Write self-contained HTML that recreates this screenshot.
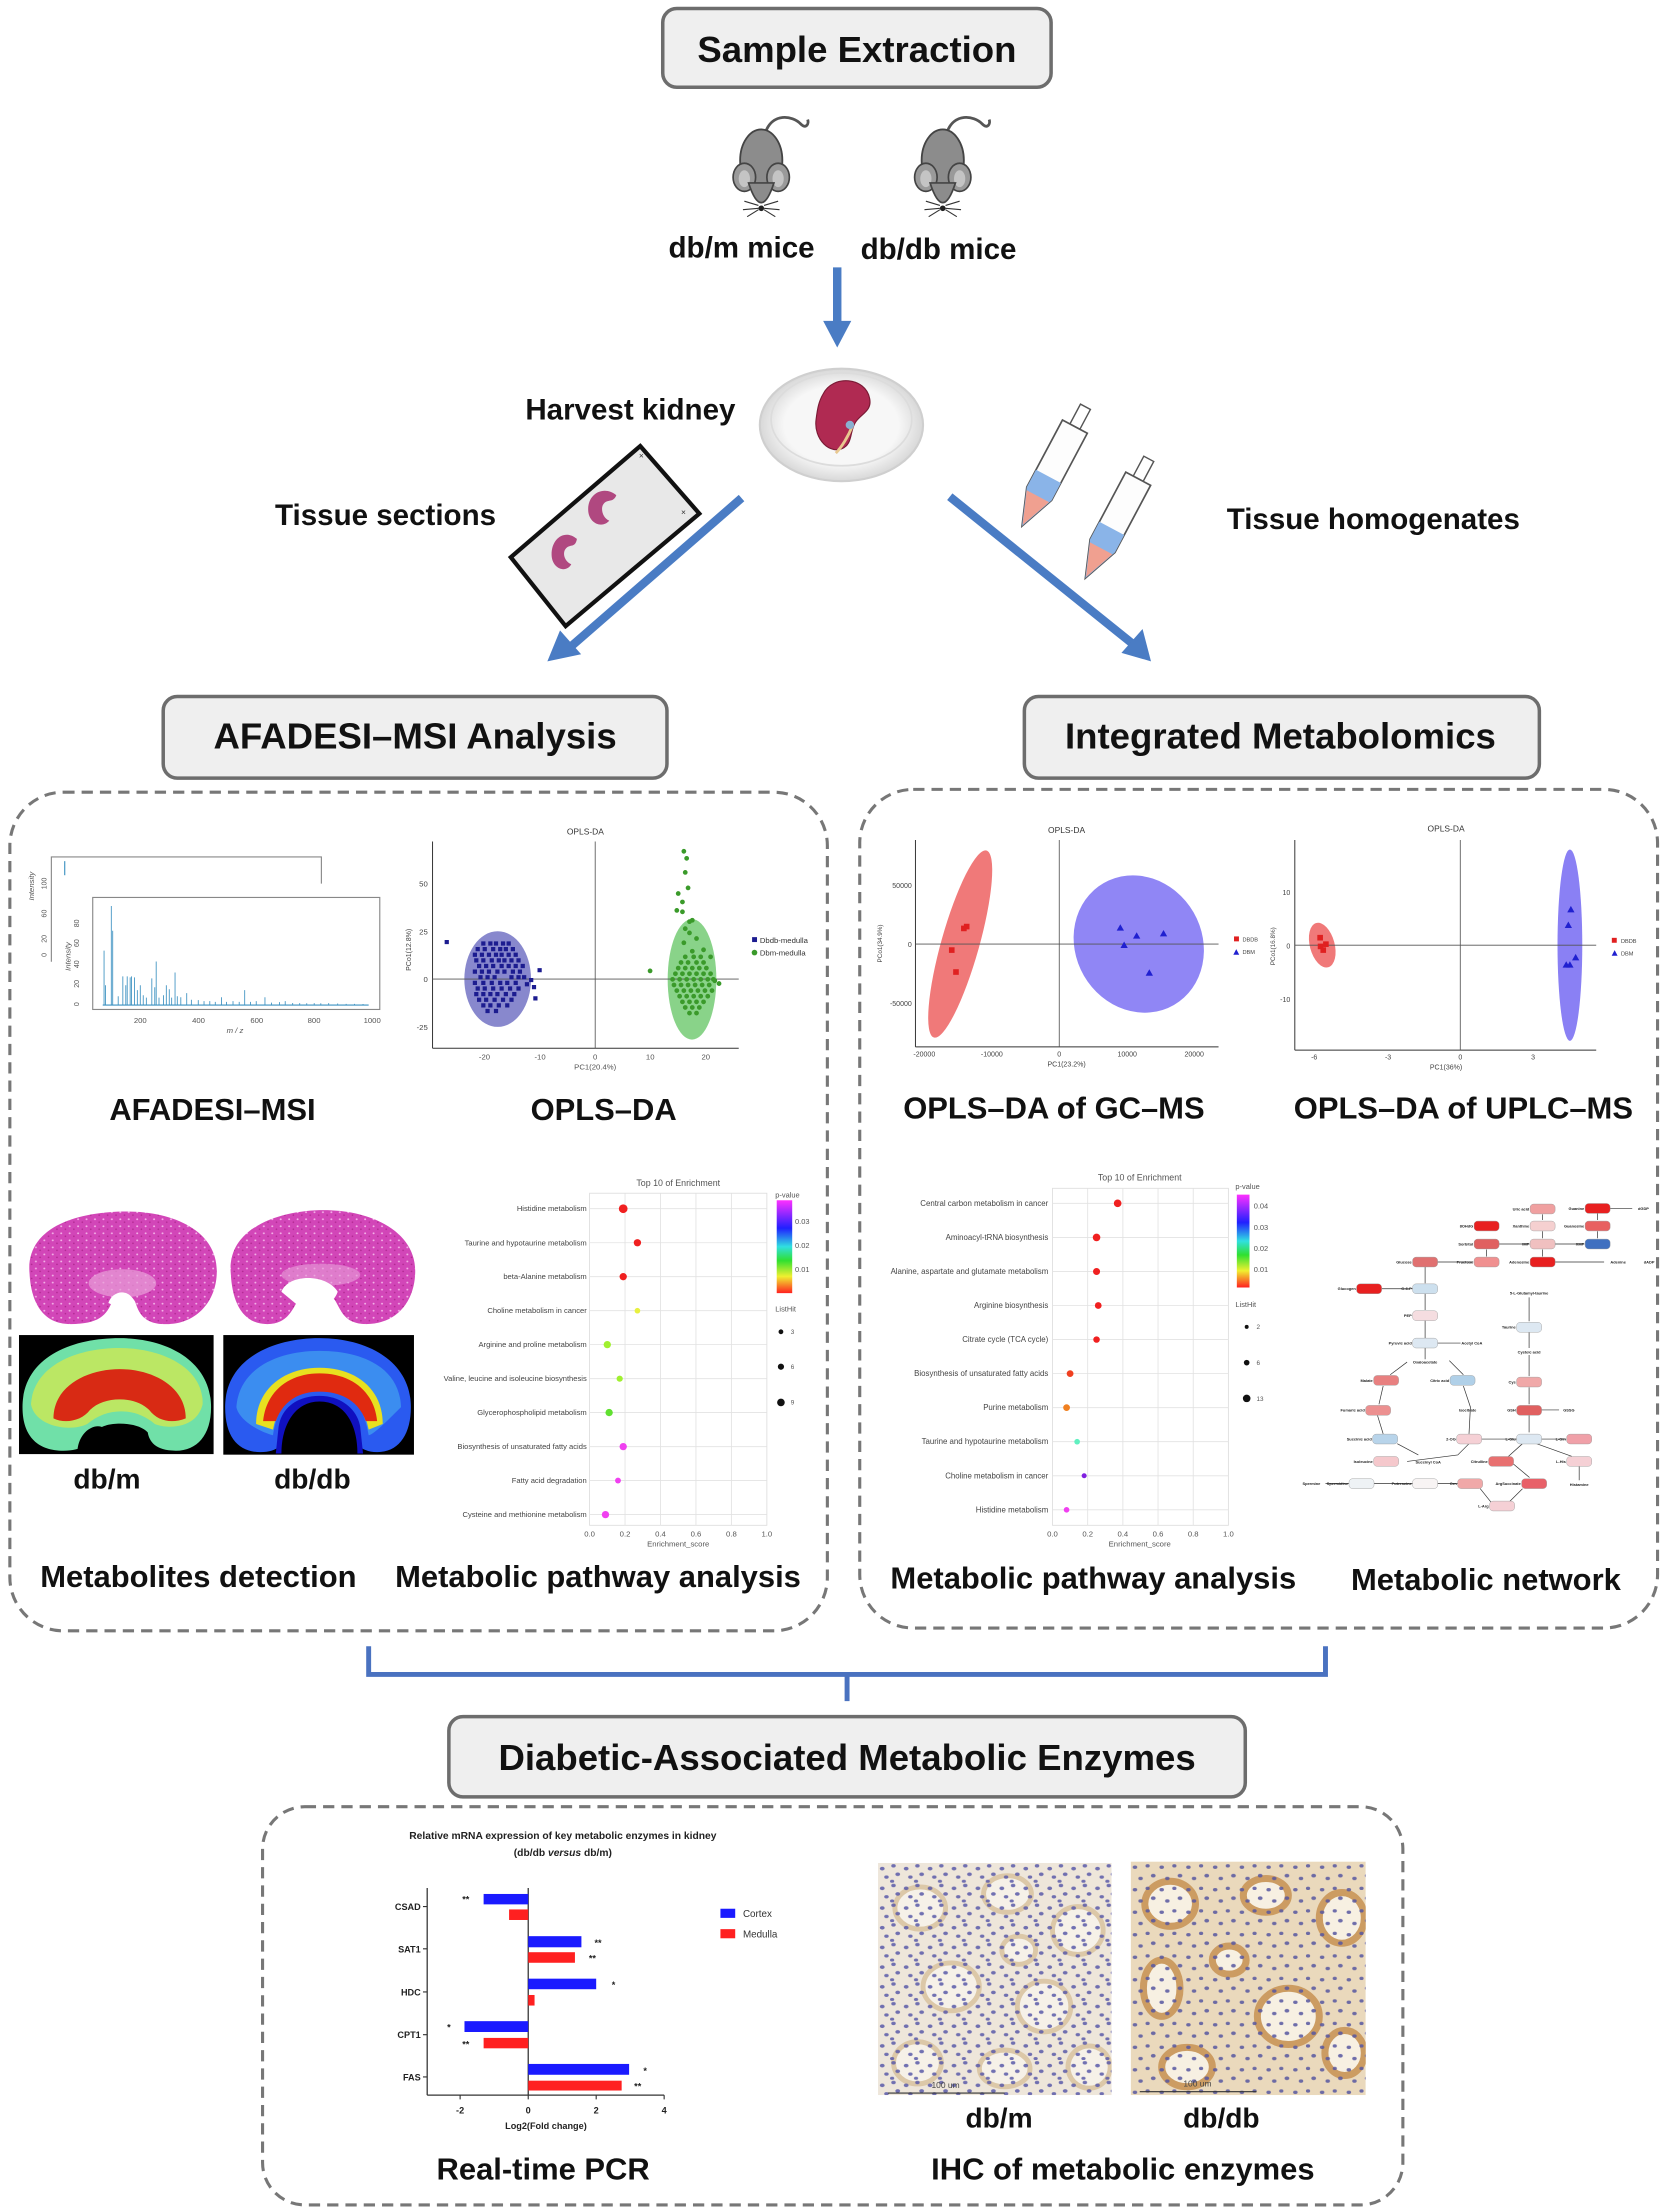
<!DOCTYPE html>
<html><head><meta charset="utf-8">
<style>
html,body{margin:0;padding:0;background:#fff;}
svg{display:block;}
text{font-family:"Liberation Sans",Arial,sans-serif;}
.b{font-weight:bold;fill:#111;}
.pl{font-size:5.4px;fill:#444;text-anchor:end;}
.pr{font-size:5.6px;fill:#444;text-anchor:end;}
.ax{font-size:5.5px;fill:#555;text-anchor:middle;}
.nl{font-size:2.8px;font-weight:bold;fill:#222;text-anchor:end;}
.nm{font-size:2.8px;font-weight:bold;fill:#222;text-anchor:middle;}
.nd{stroke:#999;stroke-width:0.3;}
</style></head>
<body>
<svg xmlns="http://www.w3.org/2000/svg" width="1666" height="2210" viewBox="0 0 1184 1570.6">
<defs>
<linearGradient id="pv1" x1="0" y1="0" x2="0" y2="1">
<stop offset="0" stop-color="#ff30ff"/><stop offset="0.3" stop-color="#2020ff"/><stop offset="0.5" stop-color="#30e0e0"/><stop offset="0.65" stop-color="#30e030"/><stop offset="0.82" stop-color="#f0f030"/><stop offset="1" stop-color="#ff2020"/>
</linearGradient>
<radialGradient id="dish" cx="0.5" cy="0.5" r="0.5"><stop offset="0.7" stop-color="#f7f7f7"/><stop offset="1" stop-color="#d8d8d8"/></radialGradient>
<pattern id="hep" width="6" height="5" patternUnits="userSpaceOnUse"><rect width="6" height="5" fill="#d246b8"/><circle cx="1.5" cy="1.5" r="0.7" fill="#f2b0e6"/><circle cx="4.5" cy="3.6" r="0.6" fill="#b02890"/></pattern>
<pattern id="dots1" width="17" height="14" patternUnits="userSpaceOnUse"><g fill="#5a5aa8"><ellipse cx="3" cy="4" rx="1.7" ry="1.3"/><ellipse cx="11" cy="2" rx="1.6" ry="1.2"/><ellipse cx="14" cy="8" rx="1.7" ry="1.3"/><ellipse cx="6" cy="10" rx="1.6" ry="1.2"/><ellipse cx="10" cy="13" rx="1.5" ry="1.1"/></g></pattern>
<pattern id="dots2" width="19" height="16" patternUnits="userSpaceOnUse"><g fill="#5656a0"><ellipse cx="3" cy="4" rx="1.6" ry="1.2"/><ellipse cx="12" cy="3" rx="1.5" ry="1.2"/><ellipse cx="16" cy="10" rx="1.7" ry="1.3"/><ellipse cx="7" cy="12" rx="1.6" ry="1.2"/></g></pattern>
</defs>

<rect x="471" y="6" width="276" height="56" rx="10" fill="#efefef" stroke="#6d6d6d" stroke-width="2.5"/>
<text x="609" y="44" class="b" font-size="26" text-anchor="middle">Sample Extraction</text>

<g id="mouse1" transform="translate(541,118)">
<path d="M3,-24 C8,-38 22,-36 28,-30 C32,-26 34,-30 33,-33" fill="none" stroke="#555" stroke-width="2"/>
<ellipse cx="0" cy="-4" rx="15" ry="22" fill="#8c8c8c" stroke="#444" stroke-width="1.3"/>
<ellipse cx="-12" cy="8" rx="8" ry="10" fill="#9a9a9a" stroke="#444" stroke-width="1.2"/>
<ellipse cx="12" cy="8" rx="8" ry="10" fill="#9a9a9a" stroke="#444" stroke-width="1.2"/>
<ellipse cx="-12" cy="9" rx="4" ry="6" fill="#c4c4c4"/>
<ellipse cx="12" cy="9" rx="4" ry="6" fill="#c4c4c4"/>
<path d="M-9,12 Q0,40 9,12 Z" fill="#8c8c8c" stroke="#444" stroke-width="1.2"/>
<circle cx="0" cy="30" r="2" fill="#222"/>
<path d="M-2,28 L-12,25 M-2,30 L-13,31 M-2,31 L-10,36 M2,28 L12,25 M2,30 L13,31 M2,31 L10,36" stroke="#333" stroke-width="0.8"/>
</g>
<use href="#mouse1" transform="translate(129,0)"/>
<text x="527" y="183" class="b" font-size="21" text-anchor="middle">db/m mice</text>
<text x="667" y="184" class="b" font-size="21" text-anchor="middle">db/db mice</text>

<line x1="595" y1="190" x2="595" y2="230" stroke="#4a7cc4" stroke-width="6"/>
<polygon points="585,228 605,228 595,247" fill="#4a7cc4"/>

<ellipse cx="598" cy="302" rx="58" ry="40" fill="url(#dish)" stroke="#cfcfcf" stroke-width="1.5"/>
<ellipse cx="598" cy="298" rx="50" ry="33" fill="none" stroke="#dcdcdc" stroke-width="1.2"/>
<path d="M585,280 C592,266 615,268 618,283 C620,292 612,294 608,300 C604,306 606,314 600,318 C590,324 578,312 580,298 C581,290 582,285 585,280 Z" fill="#b02a52" stroke="#7a1a35" stroke-width="0.8"/>
<path d="M606,302 C603,310 598,318 594,322" stroke="#e8c890" stroke-width="2" fill="none"/>
<circle cx="604" cy="302" r="3" fill="#8ab0d0"/>
<text x="448" y="298" class="b" font-size="21" text-anchor="middle">Harvest kidney</text>

<polygon points="455,317 497,365 402,445 363,396" fill="#e8e8e8" stroke="#111" stroke-width="3"/>
<path d="M438,352 C430,345 418,350 418,362 C418,372 428,376 433,370 C428,368 426,360 430,357 C433,355 436,357 438,352 Z" fill="#b04880"/>
<path d="M410,383 C402,376 392,382 392,394 C392,404 402,408 406,401 C401,399 399,392 403,389 C406,387 409,389 410,383 Z" fill="#b04880"/>
<text x="454" y="326" font-size="6" fill="#333">×</text>
<text x="484" y="366" font-size="6" fill="#333">×</text>
<text x="274" y="373" class="b" font-size="21" text-anchor="middle">Tissue sections</text>

<line x1="527" y1="354" x2="404" y2="461" stroke="#4a7cc4" stroke-width="6"/>
<polygon points="389,470 398,448 413,465" fill="#4a7cc4"/>
<line x1="675" y1="353" x2="808" y2="460" stroke="#4a7cc4" stroke-width="6"/>
<polygon points="818,470 797,464 812,447" fill="#4a7cc4"/>

<g transform="translate(747,335) rotate(28)">
<rect x="-4" y="-52" width="8" height="16" fill="#fff" stroke="#555" stroke-width="1"/>
<path d="M-10,-36 L10,-36 L10,18 L0,44 L-10,18 Z" fill="#fdfdfd" stroke="#555" stroke-width="1.2"/>
<path d="M-10,4 L10,4 L10,18 L0,44 L-10,18 Z" fill="#8ab4e8"/>
<path d="M-9,20 L9,20 L0,43 Z" fill="#f0a090"/>
</g>
<g transform="translate(792,372) rotate(28)">
<rect x="-4" y="-52" width="8" height="16" fill="#fff" stroke="#555" stroke-width="1"/>
<path d="M-10,-36 L10,-36 L10,18 L0,44 L-10,18 Z" fill="#fdfdfd" stroke="#555" stroke-width="1.2"/>
<path d="M-10,4 L10,4 L10,18 L0,44 L-10,18 Z" fill="#8ab4e8"/>
<path d="M-9,20 L9,20 L0,43 Z" fill="#f0a090"/>
</g>
<text x="976" y="376" class="b" font-size="21" text-anchor="middle">Tissue homogenates</text>

<rect x="116" y="495" width="358" height="58" rx="10" fill="#efefef" stroke="#6d6d6d" stroke-width="2.5"/>
<text x="295" y="532" class="b" font-size="26" text-anchor="middle">AFADESI–MSI Analysis</text>
<rect x="728" y="495" width="366" height="58" rx="10" fill="#efefef" stroke="#6d6d6d" stroke-width="2.5"/>
<text x="910" y="532" class="b" font-size="26" text-anchor="middle">Integrated Metabolomics</text>

<rect x="7" y="563" width="581" height="596" rx="38" fill="none" stroke="#777" stroke-width="2.2" stroke-dasharray="8,5"/>
<rect x="611" y="561" width="567" height="596" rx="38" fill="none" stroke="#777" stroke-width="2.2" stroke-dasharray="8,5"/>

<path d="M36.5,683.5 L36.5,609 L228.4,609 L228.4,628" fill="none" stroke="#888" stroke-width="0.8"/>
<line x1="46" y1="612" x2="46" y2="622" stroke="#3a90c0" stroke-width="0.8"/>
<rect x="65.9" y="637.8" width="204" height="79.6" fill="#fff" stroke="#888" stroke-width="0.8"/>
<path d="M73.95,714.3V675.6 M75,714.3V700.2 M79.1,714.3V643.9 M80.1,714.3V661.5 M84,714.3V708 M87.3,714.3V693.9 M89.4,714.3V700.2 M90.4,714.3V693.9 M92.5,714.3V694.6 M93.5,714.3V693.9 M95.6,714.3V694.6 M97.6,714.3V703.7 M99.7,714.3V700.2 M101.8,714.3V707.3 M104,714.3V709 M107.9,714.3V695.3 M110,714.3V701.6 M111,714.3V683.3 M113,714.3V709 M116.2,714.3V707.3 M118.2,714.3V700.2 M120.3,714.3V703 M122,714.3V709 M124.4,714.3V691.1 M126,714.3V708 M128.5,714.3V708.7 M132.7,714.3V705.8 M136,714.3V710.5 M140.9,714.3V710.8 M145,714.3V711.5 M149.1,714.3V711.5 M153,714.3V712 M157.4,714.3V708.7 M161,714.3V712 M165.6,714.3V711.5 M170,714.3V712 M173.9,714.3V703.7 M178,714.3V712 M182.1,714.3V711.5 M188.3,714.3V708.7 M193,714.3V712.5 M198.6,714.3V712.2 M202.7,714.3V711.5 M208,714.3V712.8 M213,714.3V712.9 M218,714.3V713 M223.3,714.3V712.9 M228,714.3V713 M233.6,714.3V712.9 M240,714.3V713.2 M246,714.3V713.4 M252,714.3V713.4 M258,714.3V713.5" stroke="#3a90c0" stroke-width="0.6" fill="none"/>
<line x1="73" y1="714.3" x2="262" y2="714.3" stroke="#3a90c0" stroke-width="0.8"/>
<text x="24" y="640" font-size="5.5" fill="#555" transform="rotate(-90 24 640)" font-style="italic">Intensity</text>
<text x="50" y="690" font-size="5.5" fill="#555" transform="rotate(-90 50 690)" font-style="italic">Intensity</text>
<g class="ax"><text x="99.7" y="727">200</text><text x="141.1" y="727">400</text><text x="182.5" y="727">600</text><text x="223.2" y="727">800</text><text x="264.5" y="727">1000</text><text x="167" y="734" font-style="italic">m / z</text></g>
<g font-size="5" fill="#555">
<text x="56" y="715" transform="rotate(-90 56 715)">0</text><text x="56" y="702" transform="rotate(-90 56 702)">20</text><text x="56" y="688" transform="rotate(-90 56 688)">40</text><text x="56" y="673" transform="rotate(-90 56 673)">60</text><text x="56" y="659" transform="rotate(-90 56 659)">80</text>
<text x="33" y="680" transform="rotate(-90 33 680)">0</text><text x="33" y="670" transform="rotate(-90 33 670)">20</text><text x="33" y="652" transform="rotate(-90 33 652)">60</text><text x="33" y="632" transform="rotate(-90 33 632)">100</text>
</g>

<text x="416" y="593" font-size="6" fill="#333" text-anchor="middle">OPLS-DA</text>
<line x1="307.4" y1="598" x2="307.4" y2="745" stroke="#333" stroke-width="0.7"/>
<line x1="307.4" y1="745" x2="525" y2="745" stroke="#333" stroke-width="0.7"/>
<line x1="423" y1="598" x2="423" y2="745" stroke="#555" stroke-width="0.6"/>
<ellipse cx="353.7" cy="695.8" rx="23.7" ry="34" fill="#6a6ac0" opacity="0.8"/>
<ellipse cx="491.8" cy="696" rx="17.3" ry="42.8" fill="#6cc86c" opacity="0.8"/>
<line x1="307.4" y1="695.8" x2="525" y2="695.8" stroke="#555" stroke-width="0.6"/>
<path fill="#1c1c90" d="M342,669h3v3h-3z M347,669h3v3h-3z M351,669h3v3h-3z M356,669h3v3h-3z M360,669h3v3h-3z M338,673h3v3h-3z M343,673h3v3h-3z M349,673h3v3h-3z M354,673h3v3h-3z M358,673h3v3h-3z M363,673h3v3h-3z M336,677h3v3h-3z M341,677h3v3h-3z M346,677h3v3h-3z M351,677h3v3h-3z M355,677h3v3h-3z M360,677h3v3h-3z M365,677h3v3h-3z M337,681h3v3h-3z M342,681h3v3h-3z M348,681h3v3h-3z M353,681h3v3h-3z M357,681h3v3h-3z M362,681h3v3h-3z M367,681h3v3h-3z M339,685h3v3h-3z M344,685h3v3h-3z M349,685h3v3h-3z M355,685h3v3h-3z M360,685h3v3h-3z M365,685h3v3h-3z M370,685h3v3h-3z M336,689h3v3h-3z M341,689h3v3h-3z M346,689h3v3h-3z M352,689h3v3h-3z M357,689h3v3h-3z M363,689h3v3h-3z M368,689h3v3h-3z M340,693h3v3h-3z M345,693h3v3h-3z M350,693h3v3h-3z M362,693h3v3h-3z M367,693h3v3h-3z M371,693h3v3h-3z M336,697h3v3h-3z M342,697h3v3h-3z M348,697h3v3h-3z M354,697h3v3h-3z M359,697h3v3h-3z M365,697h3v3h-3z M338,701h3v3h-3z M343,701h3v3h-3z M349,701h3v3h-3z M355,701h3v3h-3z M361,701h3v3h-3z M367,701h3v3h-3z M337,705h3v3h-3z M342,705h3v3h-3z M347,705h3v3h-3z M352,705h3v3h-3z M358,705h3v3h-3z M364,705h3v3h-3z M339,709h3v3h-3z M344,709h3v3h-3z M350,709h3v3h-3z M356,709h3v3h-3z M362,709h3v3h-3z M342,713h3v3h-3z M347,713h3v3h-3z M353,713h3v3h-3z M359,713h3v3h-3z M345,717h3v3h-3z M351,717h3v3h-3z M316,668h3v3h-3z M382,688h3v3h-3z M378,700h3v3h-3z M376,695h3v3h-3z M379,708h3v3h-3z M373,698h3v3h-3z"/>
<path stroke="#3a9a2a" stroke-width="3.4" stroke-linecap="round" fill="none" d="M487,680h0 M493,680h0 M498,680h0 M484,684h0 M489,684h0 M495,684h0 M500,684h0 M482,688h0 M487,688h0 M492,688h0 M497,688h0 M502,688h0 M480,692h0 M485,692h0 M490,692h0 M495,692h0 M500,692h0 M505,692h0 M478,696h0 M483,696h0 M488,696h0 M493,696h0 M498,696h0 M503,696h0 M507,696h0 M479,700h0 M484,700h0 M489,700h0 M494,700h0 M499,700h0 M504,700h0 M481,704h0 M486,704h0 M491,704h0 M496,704h0 M501,704h0 M506,704h0 M483,708h0 M488,708h0 M493,708h0 M498,708h0 M503,708h0 M485,712h0 M490,712h0 M495,712h0 M500,712h0 M487,716h0 M492,716h0 M497,716h0 M490,720h0 M495,720h0 M486,605h0 M488,610h0 M487,620h0 M489,631h0 M482,635h0 M485,641h0 M481,647h0 M490,655h0 M485,648h0 M492,654h0 M487,660h0 M490,663h0 M495,667h0 M486,670h0 M500,675h0 M492,676h0 M505,680h0 M462,690h0 M508,697h0 M511,699h0"/>
<g class="ax"><text x="344.3" y="753">-20</text><text x="383.8" y="753">-10</text><text x="423" y="753">0</text><text x="462.1" y="753">10</text><text x="501.6" y="753">20</text><text x="423" y="760">PC1(20.4%)</text></g>
<g font-size="5.5" fill="#444" text-anchor="end"><text x="304" y="630">50</text><text x="304" y="664">25</text><text x="304" y="698">0</text><text x="304" y="732">-25</text></g>
<text x="292" y="690" font-size="5" fill="#444" transform="rotate(-90 292 690)">PCo1(12.8%)</text>
<rect x="534.5" y="666" width="3.5" height="3.5" fill="#1c1c90"/><text x="540" y="670" font-size="5.5" fill="#333">Dbdb-medulla</text>
<circle cx="536.2" cy="677" r="2" fill="#3a9a2a"/><text x="540" y="679" font-size="5.5" fill="#333">Dbm-medulla</text>

<text x="151" y="796" class="b" font-size="22" text-anchor="middle">AFADESI–MSI</text>
<text x="429" y="796" class="b" font-size="22" text-anchor="middle">OPLS–DA</text>

<text x="758" y="592" font-size="6" fill="#333" text-anchor="middle">OPLS-DA</text>
<line x1="650.6" y1="597" x2="650.6" y2="744" stroke="#333" stroke-width="0.7"/>
<line x1="650.6" y1="744" x2="866" y2="744" stroke="#333" stroke-width="0.7"/>
<line x1="752.8" y1="597" x2="752.8" y2="744" stroke="#555" stroke-width="0.6"/>
<ellipse cx="682.4" cy="670.9" rx="13.5" ry="69" fill="#ee6a6a" opacity="0.9" transform="rotate(15.7 682.4 670.9)"/>
<ellipse cx="809.3" cy="670.9" rx="45" ry="50" fill="#8a80f4" opacity="0.95" transform="rotate(-30 809.3 670.9)"/>
<line x1="650.6" y1="670.9" x2="866" y2="670.9" stroke="#555" stroke-width="0.6"/>
<g fill="#e02020"><rect x="685" y="656.5" width="4" height="4"/><rect x="683" y="657.8" width="4" height="4"/><rect x="674.4" y="673.2" width="4" height="4"/><rect x="677.4" y="688.8" width="4" height="4"/></g>
<g fill="#2020d0"><polygon points="796.2,656.8 793.6,661.4 798.8,661.4"/><polygon points="807.8,662.5 805.2,667.1 810.4,667.1"/><polygon points="826.9,660.9 824.3,665.5 829.5,665.5"/><polygon points="798.9,669.1 796.3,673.7 801.5,673.7"/><polygon points="816.8,688.8 814.2,693.4 819.4,693.4"/></g>
<g font-size="5" fill="#444" text-anchor="middle"><text x="656.9" y="751">-20000</text><text x="704.9" y="751">-10000</text><text x="752.8" y="751">0</text><text x="801.1" y="751">10000</text><text x="848.7" y="751">20000</text><text x="758" y="758">PC1(23.2%)</text></g>
<g font-size="5" fill="#444" text-anchor="end"><text x="648" y="631">50000</text><text x="648" y="673">0</text><text x="648" y="715">-50000</text></g>
<text x="627" y="684" font-size="4.5" fill="#444" transform="rotate(-90 627 684)">PCo1(34.9%)</text>
<rect x="877" y="665.5" width="3.5" height="3.5" fill="#e02020"/><text x="883" y="669" font-size="4" fill="#444">DBDB</text>
<polygon points="878.6,674.5 876.5,678.5 880.7,678.5" fill="#2020d0"/><text x="883" y="678" font-size="4" fill="#444">DBM</text>

<text x="1027.7" y="591" font-size="6" fill="#333" text-anchor="middle">OPLS-DA</text>
<line x1="920.2" y1="597" x2="920.2" y2="746.3" stroke="#333" stroke-width="0.7"/>
<line x1="920.2" y1="746.3" x2="1134.4" y2="746.3" stroke="#333" stroke-width="0.7"/>
<line x1="1037.8" y1="597" x2="1037.8" y2="746.3" stroke="#555" stroke-width="0.6"/>
<ellipse cx="939.7" cy="671.7" rx="8.8" ry="16.3" fill="#ee6a6a" opacity="0.9" transform="rotate(-15 939.7 671.7)"/>
<ellipse cx="1115.7" cy="671.7" rx="8.8" ry="68" fill="#8a80f4"/>
<line x1="920.2" y1="671.7" x2="1134.4" y2="671.7" stroke="#555" stroke-width="0.6"/>
<g fill="#e02020"><rect x="936.2" y="664.4" width="4" height="4"/><rect x="940.3" y="669" width="4" height="4"/><rect x="936.5" y="670.6" width="4" height="4"/><rect x="938.4" y="673.2" width="4" height="4"/></g>
<g fill="#2020d0"><polygon points="1116.4,643.8 1113.8,648.4 1119,648.4"/><polygon points="1114.6,654.9 1112,659.5 1117.2,659.5"/><polygon points="1119.8,677.9 1117.2,682.5 1122.4,682.5"/><polygon points="1113.1,683.1 1110.5,687.7 1115.7,687.7"/><polygon points="1115.7,683.1 1113.1,687.7 1118.3,687.7"/></g>
<g font-size="5" fill="#444" text-anchor="middle"><text x="934" y="753">-6</text><text x="986.5" y="753">-3</text><text x="1037.8" y="753">0</text><text x="1089.5" y="753">3</text><text x="1027.7" y="760">PC1(36%)</text></g>
<g font-size="5" fill="#444" text-anchor="end"><text x="917" y="636">10</text><text x="917" y="674">0</text><text x="917" y="712">-10</text></g>
<text x="906" y="686" font-size="4.5" fill="#444" transform="rotate(-90 906 686)">PCo1(16.8%)</text>
<rect x="1145.5" y="666.5" width="3.5" height="3.5" fill="#e02020"/><text x="1152" y="670" font-size="4" fill="#444">DBDB</text>
<polygon points="1147.5,675.2 1145.4,679.2 1149.6,679.2" fill="#2020d0"/><text x="1152" y="679" font-size="4" fill="#444">DBM</text>

<text x="749" y="795" class="b" font-size="22" text-anchor="middle">OPLS–DA of GC–MS</text>
<text x="1040" y="795" class="b" font-size="22" text-anchor="middle">OPLS–DA of UPLC–MS</text>

<path d="M21,905 C18,872 55,861 90,861 C125,861 156,876 154,906 C153,925 140,940 120,941 C100,942 98,930 96,925 C92,918 85,918 80,924 C76,935 70,941 50,941 C30,941 22,925 21,905 Z" fill="url(#hep)"/>
<ellipse cx="87" cy="912" rx="24" ry="10" fill="#e8a0d8" opacity="0.7"/>
<path d="M77,926 C80,917 92,915 96,926 L88,931 Z" fill="#fff"/>
<path d="M164,905 C161,872 200,860 230,860 C265,860 297,876 295,906 C294,925 282,941 260,941 C244,941 242,930 238,924 C232,916 220,916 214,920 C208,930 205,941 190,941 C172,941 165,925 164,905 Z" fill="url(#hep)"/>
<ellipse cx="228" cy="906" rx="28" ry="8" fill="#e8a0d8" opacity="0.6"/>
<path d="M200,918 C205,905 232,905 240,918 C236,930 220,932 212,928 Z" fill="#fff"/>

<rect x="13.5" y="948.8" width="138.3" height="84.6" fill="#000"/>
<path d="M16,1000 C16,965 50,951 85,951 C120,951 150,968 150,1000 C150,1020 140,1031 125,1031 C110,1031 106,1024 105,1018 C98,1010 75,1010 70,1016 C66,1026 58,1031 45,1031 C28,1031 16,1022 16,1000 Z" fill="#70e0a8"/>
<path d="M22,998 C24,970 55,958 85,958 C115,958 145,972 144,998 C140,1015 120,1016 110,1012 C96,1000 76,1000 62,1012 C50,1018 25,1014 22,998 Z" fill="#c8e858" opacity="0.85"/>
<path d="M38,1008 C38,985 62,973 85,973 C108,973 132,985 132,1008 C122,1012 112,1010 106,1002 C96,992 74,992 64,1002 C58,1010 46,1012 38,1008 Z" fill="#d82a14"/>
<path d="M55,1031 C56,1018 66,1012 72,1014 C80,1018 78,1026 75,1031 Z" fill="#000"/>
<rect x="158.7" y="948.8" width="135.5" height="85" fill="#000"/>
<path d="M160,1000 C160,965 195,951 227,951 C262,951 292,968 292,1000 C292,1020 283,1032 268,1032 C255,1032 252,1024 250,1018 C245,1005 212,1005 205,1018 C202,1026 198,1032 185,1032 C170,1032 160,1022 160,1000 Z" fill="#2a5af0"/>
<path d="M168,1000 C170,972 198,960 227,960 C258,960 284,972 285,1000 C275,1010 265,1020 262,1020 C258,995 245,985 227,985 C210,985 198,995 194,1020 C186,1018 170,1010 168,1000 Z" fill="#48b8f0" opacity="0.55"/>
<path d="M182,1012 C182,987 202,972 227,972 C253,972 272,987 272,1012 L262,1016 C258,995 245,985 227,985 C210,985 198,995 194,1016 Z" fill="#e8e020"/>
<path d="M187,1010 C189,989 205,976 227,976 C250,976 266,989 268,1010 L260,1010 C255,996 243,989 227,989 C212,989 201,996 196,1010 Z" fill="#e02a10"/>
<path d="M196,1033 L198,1014 C200,1000 212,992 227,992 C243,992 254,1002 256,1014 L258,1033 Z" fill="#1010c0"/>
<path d="M200,1033 C200,1012 210,996 227,996 C245,996 254,1012 254,1033 Z" fill="#000"/>

<text x="76" y="1058" class="b" font-size="20" text-anchor="middle">db/m</text>
<text x="222" y="1058" class="b" font-size="20" text-anchor="middle">db/db</text>

<rect x="419" y="848" width="126" height="236" fill="#fff" stroke="#ddd" stroke-width="0.6"/>
<g stroke="#e2e2e2" stroke-width="0.6"><path d="M444.2,848V1084 M469.4,848V1084 M494.6,848V1084 M519.8,848V1084 M419,859H545 M419,883.2H545 M419,907.3H545 M419,931.5H545 M419,955.6H545 M419,979.8H545 M419,1003.9H545 M419,1028.1H545 M419,1052.2H545 M419,1076.4H545"/></g>
<g class="pl"><text x="417" y="860.8">Histidine metabolism</text><text x="417" y="885">Taurine and hypotaurine metabolism</text><text x="417" y="909.1">beta-Alanine metabolism</text><text x="417" y="933.3">Choline metabolism in cancer</text><text x="417" y="957.4">Arginine and proline metabolism</text><text x="417" y="981.6">Valine, leucine and isoleucine biosynthesis</text><text x="417" y="1005.7">Glycerophospholipid metabolism</text><text x="417" y="1029.9">Biosynthesis of unsaturated fatty acids</text><text x="417" y="1054">Fatty acid degradation</text><text x="417" y="1078.2">Cysteine and methionine metabolism</text></g>
<circle cx="442.9" cy="859" r="3.1" fill="#f02020"/><circle cx="453" cy="883.2" r="2.6" fill="#f02020"/><circle cx="442.9" cy="907.3" r="2.6" fill="#f02020"/><circle cx="453" cy="931.5" r="2" fill="#e8f040"/><circle cx="431.6" cy="955.6" r="2.6" fill="#a0f030"/><circle cx="440.4" cy="979.8" r="2.2" fill="#a0f030"/><circle cx="432.9" cy="1003.9" r="2.6" fill="#60e030"/><circle cx="442.9" cy="1028.1" r="2.6" fill="#f040f0"/><circle cx="439.2" cy="1052.2" r="2.1" fill="#f040f0"/><circle cx="430.3" cy="1076.4" r="2.6" fill="#f040f0"/>
<g class="ax"><text x="419" y="1092">0.0</text><text x="444.2" y="1092">0.2</text><text x="469.4" y="1092">0.4</text><text x="494.6" y="1092">0.6</text><text x="519.8" y="1092">0.8</text><text x="545" y="1092">1.0</text><text x="482" y="1099">Enrichment_score</text><text x="482" y="843" font-size="6.3">Top 10 of  Enrichment</text></g>
<rect x="552" y="853" width="11" height="66" fill="url(#pv1)"/>
<g font-size="5.3" fill="#555"><text x="551" y="851">p-value</text><text x="565" y="870">0.03</text><text x="565" y="887">0.02</text><text x="565" y="904">0.01</text><text x="551" y="932">ListHit</text></g>
<circle cx="555" cy="946.5" r="1.7" fill="#111"/><circle cx="555" cy="971.3" r="2.2" fill="#111"/><circle cx="555" cy="996.7" r="2.7" fill="#111"/>
<g font-size="4.5" fill="#555"><text x="562" y="948">3</text><text x="562" y="973">6</text><text x="562" y="998">9</text></g>

<rect x="748" y="844.5" width="125" height="239.5" fill="#fff" stroke="#ddd" stroke-width="0.6"/>
<g stroke="#e2e2e2" stroke-width="0.6"><path d="M773,844.5V1084 M798,844.5V1084 M823,844.5V1084 M848,844.5V1084 M748,855.2H873 M748,879.4H873 M748,903.6H873 M748,927.8H873 M748,952H873 M748,976.2H873 M748,1000.4H873 M748,1024.6H873 M748,1048.8H873 M748,1073H873"/></g>
<g class="pr"><text x="745" y="857">Central carbon metabolism in cancer</text><text x="745" y="881.2">Aminoacyl-tRNA biosynthesis</text><text x="745" y="905.4">Alanine, aspartate and glutamate metabolism</text><text x="745" y="929.6">Arginine biosynthesis</text><text x="745" y="953.8">Citrate cycle (TCA cycle)</text><text x="745" y="978">Biosynthesis of unsaturated fatty acids</text><text x="745" y="1002.2">Purine metabolism</text><text x="745" y="1026.4">Taurine and hypotaurine metabolism</text><text x="745" y="1050.6">Choline metabolism in cancer</text><text x="745" y="1074.8">Histidine metabolism</text></g>
<circle cx="794.3" cy="855.2" r="2.7" fill="#f02020"/><circle cx="779.3" cy="879.4" r="2.7" fill="#f02020"/><circle cx="779.3" cy="903.6" r="2.5" fill="#f02020"/><circle cx="780.5" cy="927.8" r="2.4" fill="#f02020"/><circle cx="779.3" cy="952" r="2.3" fill="#f02020"/><circle cx="760.5" cy="976.2" r="2.4" fill="#f04020"/><circle cx="758" cy="1000.4" r="2.4" fill="#f08020"/><circle cx="765.5" cy="1024.6" r="2" fill="#60f0c0"/><circle cx="770.5" cy="1048.8" r="1.8" fill="#8020e0"/><circle cx="758" cy="1073" r="2" fill="#f040f0"/>
<g class="ax"><text x="748" y="1092">0.0</text><text x="773" y="1092">0.2</text><text x="798" y="1092">0.4</text><text x="823" y="1092">0.6</text><text x="848" y="1092">0.8</text><text x="873" y="1092">1.0</text><text x="810" y="1099">Enrichment_score</text><text x="810" y="839" font-size="6.3">Top 10 of  Enrichment</text></g>
<rect x="879" y="849" width="9" height="66" fill="url(#pv1)"/>
<g font-size="5.3" fill="#555"><text x="878" y="845">p-value</text><text x="891" y="859">0.04</text><text x="891" y="874">0.03</text><text x="891" y="889">0.02</text><text x="891" y="904">0.01</text><text x="878" y="929">ListHit</text></g>
<circle cx="886" cy="943" r="1.4" fill="#111"/><circle cx="886" cy="968.4" r="2" fill="#111"/><circle cx="886" cy="993.8" r="2.7" fill="#111"/>
<g font-size="4.5" fill="#555"><text x="893" y="944.5">2</text><text x="893" y="970">6</text><text x="893" y="995.5">13</text></g>

<path d="M1012.8,900 L1012.8,912 M1012.8,919 L1012.8,931 M1012.8,938 L1012.8,951 M1021,954.5 L1038,954.5 M1012.8,958 L1012.8,966 M1030,967 L1040,977 M1000,968 L988,977 M983,985 L980,998 M979,1006 L983,1019 M993,1026 L1008,1034 M1040,985 L1045,1000 L1044,1019 M1053,1022.7 L1078,1022.7 M1086.7,1018 L1086.7,1006 M1086.7,998 L1086.7,986 M1086.7,978 L1086.7,963 M1086.7,958 L1086.7,947 M1086.7,939 L1086.7,922 M1095,1002 L1108,1002 M1095,1022.7 L1113,1022.7 M1082,1026 L1072,1035 M1092,1026 L1117,1035 M1122.3,1042 L1122.3,1052 M1075,1040 L1087,1050 M1082,1058 L1072,1068 M1060,1068 L1052,1058 M1037,1054.4 L1021,1054.4 M1004,1054.4 L976,1054.4 M959,1054.4 L942,1054.4 M1021,896.9 L1047,896.9 M1105,896.9 L1140,896.9 M1096.3,893 L1096.3,888 M1096.3,880 L1096.3,875 M1096.3,867 L1096.3,863 M1105,884.1 L1126,884.1 M1135.4,880 L1135.4,875 M1135.4,867 L1135.4,862 M1144,858.8 L1160,858.8 M1065,884.1 L1087,884.1 M1056.5,888 L1056.5,893 M982,915.9 L1004,915.9 M1044,1026 L1036,1034 L1000,1038.6" stroke="#333" stroke-width="0.5" fill="none"/>
<g class="nd">
<rect x="1087.4" y="855.7" width="17.8" height="7" rx="2.5" fill="#f0a0a0"/>
<rect x="1126.5" y="855.3" width="17.8" height="7" rx="2.5" fill="#e82020"/>
<rect x="1047.6" y="867.8" width="17.8" height="7" rx="2.5" fill="#e82020"/>
<rect x="1087.4" y="867.8" width="17.8" height="7" rx="2.5" fill="#f5d0d0"/>
<rect x="1126.5" y="867.8" width="17.8" height="7" rx="2.5" fill="#e86060"/>
<rect x="1047.6" y="880.6" width="17.8" height="7" rx="2.5" fill="#e06060"/>
<rect x="1087.4" y="880.6" width="17.8" height="7" rx="2.5" fill="#f0c0c0"/>
<rect x="1126.5" y="880.6" width="17.8" height="7" rx="2.5" fill="#4070c0"/>
<rect x="1003.9" y="893.4" width="17.8" height="7" rx="2.5" fill="#e07070"/>
<rect x="1047.6" y="893.4" width="17.8" height="7" rx="2.5" fill="#f09090"/>
<rect x="1087.4" y="893.4" width="17.8" height="7" rx="2.5" fill="#e82020"/>
<rect x="964.1" y="912.4" width="17.8" height="7" rx="2.5" fill="#e82020"/>
<rect x="1003.9" y="912.4" width="17.8" height="7" rx="2.5" fill="#cde0ee"/>
<rect x="1003.9" y="931.5" width="17.8" height="7" rx="2.5" fill="#f5dde0"/>
<rect x="1003.9" y="951" width="17.8" height="7" rx="2.5" fill="#dde8f2"/>
<rect x="1077.8" y="939.8" width="17.8" height="7" rx="2.5" fill="#dde8f2"/>
<rect x="1077.8" y="978.7" width="17.8" height="7" rx="2.5" fill="#f0a8a8"/>
<rect x="976.2" y="977.5" width="17.8" height="7" rx="2.5" fill="#e88080"/>
<rect x="1030.5" y="977.5" width="17.8" height="7" rx="2.5" fill="#b0d0e8"/>
<rect x="970.5" y="998.8" width="17.8" height="7" rx="2.5" fill="#ec9090"/>
<rect x="1077.8" y="998.8" width="17.8" height="7" rx="2.5" fill="#e06060"/>
<rect x="975.5" y="1019.2" width="17.8" height="7" rx="2.5" fill="#b8d4ea"/>
<rect x="1035.2" y="1019.2" width="17.8" height="7" rx="2.5" fill="#f5d0d5"/>
<rect x="1077.8" y="1019.2" width="17.8" height="7" rx="2.5" fill="#dde8f2"/>
<rect x="1113.4" y="1019.2" width="17.8" height="7" rx="2.5" fill="#f0a0a8"/>
<rect x="976.2" y="1035.1" width="17.8" height="7" rx="2.5" fill="#f5c8cc"/>
<rect x="1057.9" y="1035.1" width="17.8" height="7" rx="2.5" fill="#e87070"/>
<rect x="1113.4" y="1035.1" width="17.8" height="7" rx="2.5" fill="#f5d0d5"/>
<rect x="958.7" y="1050.9" width="17.8" height="7" rx="2.5" fill="#eef2f5"/>
<rect x="1003.9" y="1050.9" width="17.8" height="7" rx="2.5" fill="#f8f4f4"/>
<rect x="1035.9" y="1050.9" width="17.8" height="7" rx="2.5" fill="#f0a8a8"/>
<rect x="1081.4" y="1050.9" width="17.8" height="7" rx="2.5" fill="#e86068"/>
<rect x="1058.6" y="1066.8" width="17.8" height="7" rx="2.5" fill="#f5d0d5"/>
</g>
<g class="nl">
<text x="1086.8" y="860.2">Uric acid</text><text x="1125.9" y="859.8">Guanine</text><text x="1047" y="872.3">8OHdG</text><text x="1086.8" y="872.3">Xanthine</text><text x="1125.9" y="872.3">Guanosine</text><text x="1047" y="885.1">Sorbitol</text><text x="1086.8" y="885.1">IMP</text><text x="1125.9" y="885.1">XMP</text><text x="1003.3" y="897.9">Glucose</text><text x="1047" y="897.9">Fructose</text><text x="1086.8" y="897.9">Adenosine</text><text x="963.5" y="916.9">Glucogen</text><text x="1003.3" y="916.9">G-6-P</text><text x="1003.3" y="936">PEP</text><text x="1003.3" y="955.5">Pyruvic acid</text><text x="1077.2" y="944.3">Taurine</text><text x="1077.2" y="983.2">Cys</text><text x="975.6" y="982">Malate</text><text x="1029.9" y="982">Citric acid</text><text x="969.9" y="1003.3">Fumaric acid</text><text x="1077.2" y="1003.3">GSH</text><text x="974.9" y="1023.7">Succinic acid</text><text x="1034.6" y="1023.7">2-OG</text><text x="1077.2" y="1023.7">L-Glu</text><text x="1112.8" y="1023.7">L-Gln</text><text x="975.6" y="1039.6">Isoleucine</text><text x="1057.3" y="1039.6">Citrulline</text><text x="1112.8" y="1039.6">L-His</text><text x="958.1" y="1055.4">Spermidine</text><text x="1003.3" y="1055.4">Putrescine</text><text x="1035.3" y="1055.4">Orn</text><text x="1080.8" y="1055.4">ArgSuccinate</text><text x="1058" y="1071.3">L-Arg</text>
</g>
<g class="nm"><text x="1086.7" y="920">5-L-Glutamyl-taurine</text><text x="1086.7" y="962">Cysteic acid</text><text x="1012.8" y="969">Oxaloacetate</text><text x="1122.3" y="1056">Histamine</text><text x="1046" y="955.5">Acetyl CoA</text><text x="1043" y="1003">Isocitrate</text><text x="1015" y="1040">Succinyl CoA</text><text x="1115" y="1003">GSSG</text><text x="932" y="1055.5">Spermine</text><text x="1150" y="898">Adenine</text><text x="1172" y="898">dADP</text><text x="1168" y="860">dGDP</text></g>

<text x="141" y="1128" class="b" font-size="22" text-anchor="middle">Metabolites detection</text>
<text x="425" y="1128" class="b" font-size="22" text-anchor="middle">Metabolic pathway analysis</text>
<text x="777" y="1129" class="b" font-size="22" text-anchor="middle">Metabolic pathway analysis</text>
<text x="1056" y="1130" class="b" font-size="22" text-anchor="middle">Metabolic network</text>

<path d="M262,1170 L262,1190 L942,1190 L942,1170 M602,1190 L602,1209" fill="none" stroke="#4a72c0" stroke-width="3.5"/>

<rect x="319" y="1220" width="566" height="57" rx="10" fill="#efefef" stroke="#6d6d6d" stroke-width="2.5"/>
<text x="602" y="1258" class="b" font-size="26" text-anchor="middle">Diabetic-Associated Metabolic Enzymes</text>

<rect x="186.6" y="1284" width="810.4" height="283" rx="30" fill="none" stroke="#777" stroke-width="2.2" stroke-dasharray="8,5"/>

<text x="400" y="1307" font-size="7.3" font-weight="bold" fill="#222" text-anchor="middle">Relative mRNA expression of key metabolic enzymes in kidney</text>
<text x="400" y="1319" font-size="7.3" font-weight="bold" fill="#222" text-anchor="middle">(db/db <tspan font-style="italic">versus</tspan> db/m)</text>
<line x1="303.6" y1="1341.8" x2="303.6" y2="1489" stroke="#333" stroke-width="0.9"/>
<line x1="303.6" y1="1489" x2="472" y2="1489" stroke="#333" stroke-width="0.9"/>
<line x1="375.4" y1="1341.8" x2="375.4" y2="1489" stroke="#333" stroke-width="0.9"/>
<path stroke="#333" stroke-width="0.8" d="M327,1489v3 M375.4,1489v3 M423.7,1489v3 M472,1489v3 M300.6,1355h3 M300.6,1385h3 M300.6,1415.6h3 M300.6,1446h3 M300.6,1476h3"/>
<g fill="#1a1aff"><rect x="343.7" y="1346" width="31.7" height="7.4"/><rect x="375.4" y="1376" width="37.8" height="7.9"/><rect x="375.4" y="1406.2" width="48.3" height="7.5"/><rect x="330.1" y="1436.4" width="45.3" height="7.7"/><rect x="375.4" y="1466.8" width="71.7" height="7.7"/></g>
<g fill="#ff2020"><rect x="361.8" y="1357" width="13.6" height="7.5"/><rect x="375.4" y="1387.4" width="33.2" height="7.5"/><rect x="375.4" y="1417.8" width="4.5" height="7.5"/><rect x="343.7" y="1448.3" width="31.7" height="7.4"/><rect x="375.4" y="1478.7" width="66.4" height="7"/></g>
<g font-size="6.5" font-weight="bold" fill="#222" text-anchor="end"><text x="299" y="1357.5">CSAD</text><text x="299" y="1387.5">SAT1</text><text x="299" y="1418">HDC</text><text x="299" y="1448.5">CPT1</text><text x="299" y="1478.5">FAS</text></g>
<g font-size="6.5" font-weight="bold" fill="#222" text-anchor="middle"><text x="331" y="1352">**</text><text x="425" y="1383">**</text><text x="421" y="1394">**</text><text x="436" y="1413">*</text><text x="319" y="1443">*</text><text x="331" y="1455">**</text><text x="458.5" y="1474">*</text><text x="453.2" y="1485">**</text>
<text x="327" y="1502">-2</text><text x="375.4" y="1502">0</text><text x="423.7" y="1502">2</text><text x="472" y="1502">4</text><text x="388" y="1513">Log2(Fold change)</text></g>
<rect x="512" y="1356.5" width="10.5" height="6.5" fill="#1a1aff"/><text x="528" y="1362.5" font-size="7" fill="#333">Cortex</text>
<rect x="512" y="1371" width="10.5" height="6.5" fill="#ff2020"/><text x="528" y="1377" font-size="7" fill="#333">Medulla</text>

<svg x="624" y="1324" width="166" height="165" viewBox="0 0 166 165">
<rect width="166" height="165" fill="#eee6da"/>
<g fill="#f6f1e8" stroke="#dcc8a8" stroke-width="3.5">
<ellipse cx="30" cy="32" rx="18" ry="15"/><ellipse cx="92" cy="22" rx="17" ry="13"/><ellipse cx="142" cy="48" rx="18" ry="17"/><ellipse cx="52" cy="88" rx="20" ry="17"/><ellipse cx="118" cy="102" rx="19" ry="18"/><ellipse cx="28" cy="142" rx="17" ry="15"/><ellipse cx="90" cy="146" rx="18" ry="13"/><ellipse cx="150" cy="145" rx="15" ry="15"/><ellipse cx="100" cy="62" rx="12" ry="10"/></g>
<rect width="166" height="165" fill="url(#dots1)" opacity="0.85"/>
</svg>
<svg x="803.6" y="1323" width="167" height="166" viewBox="0 0 167 166">
<rect width="167" height="166" fill="#ead9bc"/>
<g fill="#f7f0e2" stroke="#cc9c62" stroke-width="5">
<ellipse cx="28" cy="30" rx="18" ry="16"/><ellipse cx="96" cy="24" rx="16" ry="12"/><ellipse cx="150" cy="40" rx="16" ry="18"/><ellipse cx="22" cy="90" rx="13" ry="20"/><ellipse cx="112" cy="110" rx="22" ry="20"/><ellipse cx="40" cy="146" rx="18" ry="14"/><ellipse cx="152" cy="136" rx="14" ry="16"/><ellipse cx="70" cy="70" rx="12" ry="10"/></g>
<rect width="167" height="166" fill="url(#dots2)" opacity="0.85"/>
</svg>
<line x1="631" y1="1487.5" x2="714" y2="1487.5" stroke="#333" stroke-width="0.8"/>
<text x="672" y="1484" font-size="6" fill="#444" text-anchor="middle">100 um</text>
<line x1="810" y1="1486.5" x2="893" y2="1486.5" stroke="#333" stroke-width="0.8"/>
<text x="851" y="1483" font-size="6" fill="#444" text-anchor="middle">100 um</text>
<text x="710" y="1512" class="b" font-size="20" text-anchor="middle">db/m</text>
<text x="868" y="1512" class="b" font-size="20" text-anchor="middle">db/db</text>
<text x="386" y="1549" class="b" font-size="22" text-anchor="middle">Real-time PCR</text>
<text x="798" y="1549" class="b" font-size="22" text-anchor="middle">IHC of metabolic enzymes</text>
</svg>
</body></html>
